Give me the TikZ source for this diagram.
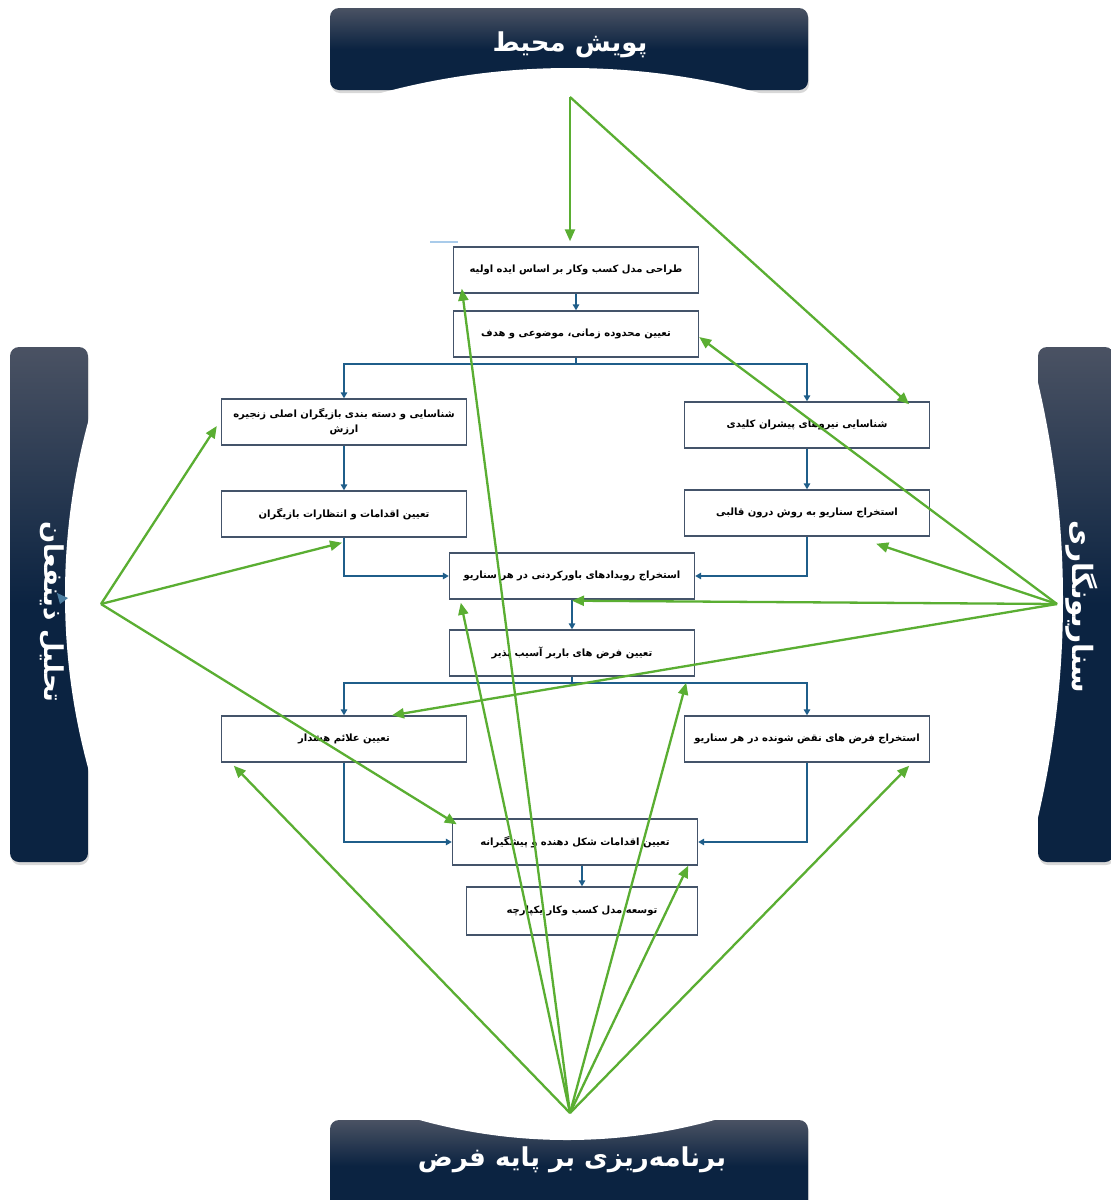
\documentclass[tikz,border=0pt]{standalone}
\usepackage{fontspec}
\newfontfamily\fa[Script=Arabic]{DejaVu Sans}
\TeXXeTstate=1
\usetikzlibrary{arrows.meta,shadows,calc}
\definecolor{navy}{HTML}{0B2341}
\definecolor{navytop}{HTML}{4A5263}
\definecolor{gr}{HTML}{5AAE32}
\definecolor{bl}{HTML}{1F5E8A}
\definecolor{bd}{HTML}{44546A}
\definecolor{lb}{HTML}{A9CBEA}
\begin{document}
\begin{tikzpicture}[x=1pt,y=-1pt,
  box/.style={draw=bd, line width=1.4pt, fill=white, minimum width=245pt, minimum height=46pt,
    inner sep=2pt, font=\fa\bfseries\fontsize{10}{15}\selectfont, align=center},
  flow/.style={draw=bl, line width=1.8pt, -{Triangle[length=6pt,width=6.5pt]}},
  grn/.style={draw=gr, line width=2.3pt, -{Triangle[length=12pt,width=10pt]}},
  bar/.style={rounded corners=9pt, top color=navytop, bottom color=navy, middle color=navy,
    drop shadow={opacity=0.3,shadow xshift=1pt,shadow yshift=-3pt}},
  bartext/.style={text=white, font=\fa\bfseries\fontsize{26}{31}\selectfont, inner sep=0pt}]
\useasboundingbox (0,0) rectangle (1111,1200);
\fill[white] (0,0) rectangle (1111,1200);

% bars
\path[bar] (330,8) rectangle (808,90);
\path[bar] (330,1120) rectangle (808,1212);
\path[bar] (10,347) rectangle (88,862);
\path[bar] (1038,347) rectangle (1114,862);
\begin{scope}\clip (322,2) rectangle (816,97); \fill[white] (570,791) circle[radius=723pt]; \end{scope}
\begin{scope}\clip (322,1113) rectangle (816,1200); \fill[white] (567,590) circle[radius=550pt]; \end{scope}
\begin{scope}\clip (3,340) rectangle (96,870); \fill[white] (720,595) circle[radius=655pt]; \end{scope}
\begin{scope}\clip (1030,340) rectangle (1111,870); \fill[white] (113,600) circle[radius=950pt]; \end{scope}

\node[bartext] (ttop) at (570,45) {\beginR پویش محیط\endR};
\node[bartext] (tbot) at (572,1160) {\beginR برنامه‌ریزی بر پایه فرض\endR};
\node[bartext, rotate=-90] (tleft) at (52,612) {\beginR تحلیل ذینفعان\endR};
\node[bartext, rotate=-90, font=\fa\bfseries\fontsize{28}{33}\selectfont] (tright) at (1082,607) {\beginR سناریونگاری\endR};
\fill[bl!80] (57,593) -- (68,598) -- (60,604) -- cycle;

% boxes
\node[box] (b1) at (576,270) {\beginR طراحی مدل کسب وکار بر اساس ایده اولیه\endR};
\node[box] (b2) at (576,334) {\beginR تعیین محدوده زمانی، موضوعی و هدف\endR};
\node[box] (b3) at (344,422) {\beginR شناسایی و دسته بندی بازیگران اصلی زنجیره\endR\\\beginR ارزش\endR};
\node[box] (b4) at (807,425) {\beginR شناسایی نیروهای پیشران کلیدی\endR};
\node[box] (b5) at (344,514) {\beginR تعیین اقدامات و انتظارات بازیگران\endR};
\node[box] (b6) at (807,513) {\beginR استخراج سناریو به روش درون قالبی\endR};
\node[box] (b7) at (572,576) {\beginR استخراج رویدادهای باورکردنی در هر سناریو\endR};
\node[box] (b8) at (572,653) {\beginR تعیین فرض های باربر آسیب پذیر\endR};
\node[box] (b9) at (344,739) {\beginR تعیین علائم هشدار\endR};
\node[box] (b10) at (807,739) {\beginR استخراج فرض های نقض شونده در هر سناریو\endR};
\node[box] (b11) at (575,842) {\beginR تعیین اقدامات شکل دهنده و پیشگیرانه\endR};
\node[box, minimum width=231pt, minimum height=48pt] (b12) at (582,911) {\beginR توسعه مدل کسب وکار یکپارچه\endR};

\coordinate (lbA) at (430,242);
\coordinate (lbB) at (458,242);
\draw[lb, line width=1.2pt] (lbA) -- (lbB);

% blue flow
\draw[flow] (b1) -- (b2);
\draw[flow] (b2.south) -- ++(0,6) -| (b3.north);
\draw[flow] (b2.south) -- ++(0,6) -| (b4.north);
\draw[flow] (b3) -- (b5);
\draw[flow] (b4) -- (b6);
\draw[flow] (b5.south) |- (b7.west);
\draw[flow] (b6.south) |- (b7.east);
\draw[flow] (b7) -- (b8);
\draw[flow] (b8.south) -- ++(0,6) -| (b9.north);
\draw[flow] (b8.south) -- ++(0,6) -| (b10.north);
\draw[flow] (b9.south) |- (b11.west);
\draw[flow] (b10.south) |- (b11.east);
\draw[flow] (b12.north |- b11.south) -- (b12.north);

% green
\coordinate (T) at (570,97);
\coordinate (R) at (1057,604);
\coordinate (L) at (101,604);
\coordinate (B) at (570,1113);
\draw[grn] (T) -- ([xshift=-6pt,yshift=5pt]b1.north);
\draw[grn] (T) -- ([xshift=-21pt,yshift=-3pt]b4.north east);
\draw[grn] (R) -- ([yshift=-3pt]b2.east);
\draw[grn] (R) -- ([xshift=-54pt,yshift=-7pt]b6.south east);
\draw[grn] (R) -- ([yshift=-1pt]b7.south);
\draw[grn] (R) -- ([xshift=48pt]b9.north);
\draw[grn] (L) -- ([xshift=-4pt,yshift=-4pt]b3.west);
\draw[grn] (L) -- ([xshift=-2pt,yshift=-5pt]b5.south);
\draw[grn] (L) -- ([xshift=5pt,yshift=-6pt]b11.north west);
\draw[grn] (B) -- ([xshift=9pt,yshift=5pt]b1.south west);
\draw[grn] (B) -- ([xshift=12pt,yshift=-3pt]b7.south west);
\draw[grn] (B) -- ([xshift=-9pt,yshift=-6pt]b8.south east);
\draw[grn] (B) -- ([xshift=13pt,yshift=-3pt]b9.south west);
\draw[grn] (B) -- ([xshift=-21pt,yshift=-3pt]b10.south east);
\draw[grn] (B) -- ([xshift=-10pt]b11.south east);
\end{tikzpicture}
\end{document}
